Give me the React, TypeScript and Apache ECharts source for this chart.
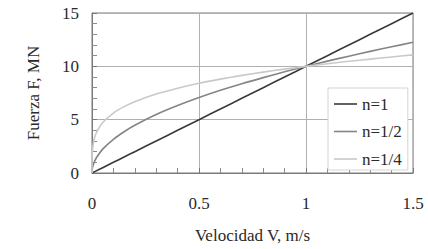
import React, { useEffect, useRef } from "react";
import * as echarts from "echarts";

const velocity = [0, 0.002, 0.01, 0.02, 0.05, 0.1, 0.15, 0.2, 0.3, 0.4, 0.5, 0.6, 0.7, 0.8, 0.9, 1.0, 1.1, 1.2, 1.3, 1.4, 1.5];
const forceN1 = [0, 0.02, 0.1, 0.2, 0.5, 1.0, 1.5, 2.0, 3.0, 4.0, 5.0, 6.0, 7.0, 8.0, 9.0, 10.0, 11.0, 12.0, 13.0, 14.0, 15.0];
const forceN12 = [0, 0.45, 1.0, 1.41, 2.24, 3.16, 3.87, 4.47, 5.48, 6.32, 7.07, 7.75, 8.37, 8.94, 9.49, 10.0, 10.49, 10.95, 11.4, 11.83, 12.25];
const forceN14 = [0, 2.11, 3.16, 3.76, 4.73, 5.62, 6.22, 6.69, 7.4, 7.95, 8.41, 8.8, 9.15, 9.46, 9.74, 10.0, 10.24, 10.47, 10.68, 10.88, 11.07];
const seriesNames = ["n=1", "n=1/2", "n=1/4"];
const xTitle = "Velocidad V, m/s";
const yTitle = "Fuerza F, MN";

const FONT = "Liberation Serif";
const TEXT = "#2a2a2a";

export default function App() {
  const ref = useRef<HTMLDivElement>(null);
  useEffect(() => {
    if (!ref.current) return;
    const chart = echarts.init(ref.current, undefined, { renderer: "svg" });
    const pairs = (ys: number[]) => velocity.map((v, i) => [v, ys[i]]);
    const colors = ["#3a3a3a", "#858585", "#c9c9c9"];
    const data = [forceN1, forceN12, forceN14];
    chart.setOption({
      animation: false,
      backgroundColor: "#fff",
      grid: {
        left: 92, right: 15, top: 13, bottom: 76,
        outerBoundsMode: "none",
        containLabel: false,
        show: true, borderColor: "#7a7a7a", borderWidth: 1,
      },
      xAxis: {
        type: "value", min: 0, max: 1.5, interval: 0.5,
        name: xTitle, nameLocation: "middle", nameGap: 54,
        nameTextStyle: { fontFamily: FONT, fontSize: 17, color: TEXT },
        axisLine: { show: true, lineStyle: { color: "#7a7a7a" } },
        axisTick: { show: true, inside: true, length: 5, lineStyle: { color: "#7a7a7a" } },
        minorTick: { show: true, splitNumber: 5, length: 5, lineStyle: { color: "#8a8a8a" } },
        splitLine: { show: true, lineStyle: { color: "#b0b0b0", width: 1 } },
        axisLabel: { fontFamily: FONT, fontSize: 17, color: TEXT, margin: 22 },
      },
      yAxis: {
        type: "value", min: 0, max: 15, interval: 5,
        name: yTitle, nameLocation: "middle", nameGap: 50, nameRotate: 90,
        nameTextStyle: { fontFamily: FONT, fontSize: 17, color: TEXT },
        axisLine: { show: true, lineStyle: { color: "#7a7a7a" } },
        axisTick: { show: true, inside: true, length: 5, lineStyle: { color: "#7a7a7a" } },
        minorTick: { show: true, splitNumber: 5, length: 5, lineStyle: { color: "#8a8a8a" } },
        splitLine: { show: true, lineStyle: { color: "#b0b0b0", width: 1 } },
        axisLabel: { fontFamily: FONT, fontSize: 17, color: TEXT, margin: 13 },
      },
      legend: {
        left: 328, top: 88, orient: "vertical",
        backgroundColor: "#fff", borderColor: "#d4d4d4", borderWidth: 1,
        padding: [7, 6, 2, 6],
        icon: "rect",
        itemWidth: 23, itemHeight: 1.6, itemGap: 9.5,
        textStyle: { fontFamily: FONT, fontSize: 17, color: TEXT, lineHeight: 18 },
        data: seriesNames,
      },
      series: data.map((ys, i) => ({
        type: "line", name: seriesNames[i], data: pairs(ys),
        symbol: "none", smooth: 0.3,
        lineStyle: { color: colors[i], width: 1.6 },
        itemStyle: { color: colors[i] },
      })),
    });
    return () => chart.dispose();
  }, []);
  return <div ref={ref} style={{ position: "fixed", left: 0, top: 0, width: 428, height: 249 }} />;
}
